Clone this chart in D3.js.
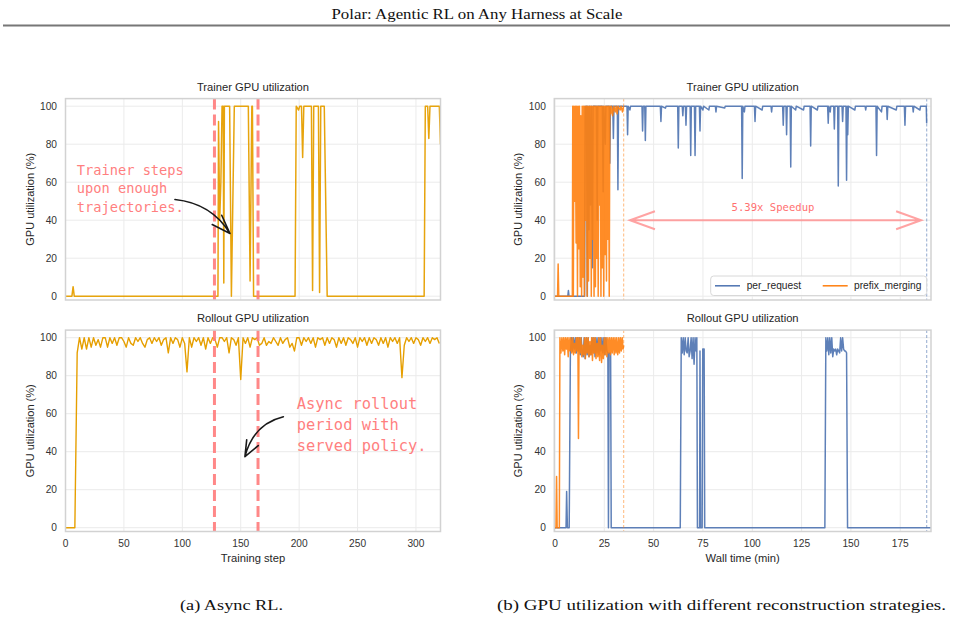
<!DOCTYPE html>
<html>
<head>
<meta charset="utf-8">
<script src="https://cdn.jsdelivr.net/npm/d3@7"></script>
<style>
	body { margin: 0; background: #ffffff; }
</style>
</head>
<body>
<svg id="fig" width="955" height="619" font-family="'Liberation Sans', Arial, sans-serif"></svg>
<script>

// ---- data ----

// (a) trainer utilization, breakpoints [step, %]
const trainerSteps = [0, 5.5, 6.5, 7.5, 130.5, 131, 132, 133, 134, 135, 135.5, 136, 140.5, 142, 144.5, 156.5, 158, 159.5, 160, 161,
	196.5, 197.5, 199.5, 200.5, 202, 203, 204, 210.5, 211.5, 212.5, 216.5, 217.5, 218.5, 221.5, 224, 307, 308, 310, 311, 312, 320, 321];
const trainerUtil = [0, 0, 5, 0, 0, 92, 40, 60, 100, 100, 7, 100, 100, 0, 100, 100, 8, 100, 100, 0,
	0, 100, 98, 100, 100, 73, 100, 100, 3, 100, 100, 2, 100, 100, 0, 0, 100, 100, 83, 100, 100, 80];

// (a) rollout utilization, one value every 2 steps
const ROLLOUT_STEP = 2;
const rolloutUtil = [
	0, 0, 0, 0, 0, 92, 100, 94, 100, 94,
	100, 95, 100, 96, 99, 95, 100, 100, 95, 100,
	97, 100, 96, 100, 100, 98, 95, 100, 97, 96,
	100, 98, 100, 97, 95, 99, 100, 97, 100, 98,
	100, 96, 99, 100, 92, 100, 97, 100, 99, 95,
	100, 97, 82, 100, 95, 100, 98, 100, 96, 100,
	94, 100, 97, 100, 99, 95, 100, 100, 98, 100,
	92, 100, 99, 96, 100, 78, 100, 97, 100, 95,
	100, 99, 100, 96, 97, 100, 96, 98, 97, 100,
	98, 96, 100, 97, 99, 100, 95, 97, 93, 100,
	100, 96, 100, 98, 100, 97, 100, 95, 100, 99,
	100, 96, 100, 97, 100, 99, 95, 100, 97, 100,
	96, 100, 99, 97, 100, 95, 100, 98, 100, 96,
	100, 97, 100, 99, 96, 100, 97, 100, 95, 100,
	98, 100, 97, 100, 79, 96, 100, 98, 100, 97,
	100, 99, 96, 100, 98, 100, 97, 100, 99, 100,
	97
];

// (b) [minute, %]
const perRequestTrainer = [
	[0,0],[6.5,0],[6.8,3],[7.1,0],[15,0],[15.3,100],[15.7,90],[16,100],[16.4,0],[16.7,100],[17.2,35],[17.5,100],
	[18,48],[18.4,100],[19,15],[19.3,100],[21,100],[21.4,40],[21.7,100],[24,100],[24.4,55],[24.7,100],[25.5,80],
	[25.8,100],[27.5,100],[27.8,70],[28.1,100],[29.3,100],[29.6,83],[29.9,100],[31.6,100],[31.9,56],[32.2,100],
	[36.5,100],[36.8,85],[37.1,100],[38,98],[38.3,100],[44.1,100],[44.4,87],[44.7,100],[45.5,100],[45.8,82],[46.1,100],
	[53.4,100],[53.7,92],[54,100],[56,99],[56.3,100],[62.2,100],[62.5,78],[62.8,100],[64.5,100],[64.8,95],[65.1,100],
	[66.1,100],[66.4,90],[66.7,100],[68.5,100],[68.8,74],[69.1,100],[70.7,100],[71,74],[71.3,100],[73.2,100],[73.5,87],
	[73.8,100],[75,98],[75.3,100],[78,98],[78.3,100],[81.3,100],[81.6,97],[81.9,100],[86,99],[86.3,100],[94.6,100],
	[94.9,62],[95.2,100],[96,97],[96.3,100],[101.1,100],[101.4,92],[101.7,100],[105,98],[105.3,100],[109.5,100],
	[109.8,97],[110.1,100],[115.4,100],[115.7,90],[116,100],[117.1,100],[117.4,85],[117.7,100],[119.2,100],[119.5,68],
	[119.8,100],[122,98],[122.3,100],[126,98],[126.3,100],[129.3,100],[129.6,79],[129.9,100],[133,98],[133.3,100],
	[138.2,100],[138.5,91],[138.8,100],[139.5,97],[139.8,100],[141.3,100],[141.6,88],[141.9,100],[143.3,100],[143.6,58],
	[143.9,100],[145.5,100],[145.8,92],[146.1,100],[147.5,100],[147.8,61],[148.1,100],[148.4,85],[148.7,100],[152,98],
	[152.3,100],[157.2,100],[157.5,98],[157.8,100],[162.7,100],[163,74],[163.3,100],[165.5,97],[165.8,100],[168.1,100],
	[168.4,93],[168.7,100],[173,98],[173.3,100],[177.1,100],[177.4,90],[177.7,100],[181.3,100],[181.6,97],[181.9,100],
	[185,98],[185.3,100],[188.2,100],[188.4,91]
];

const prefixMergingTrainer = [
	[0,0],[1.3,0],[1.6,17],[1.9,0],[8.8,0],[9,100],[9.3,0],[9.6,100],[10,50],[10.3,100],[10.7,28],[11,100],[11.4,0],
	[11.7,100],[12.1,25],[12.4,100],[12.8,5],[13.1,95],[13.5,0],[13.8,100],[14.2,10],[14.5,100],[14.9,0],[15.2,100],
	[15.6,40],[15.9,100],[16.3,0],[16.6,100],[17,8],[17.3,100],[17.7,20],[18,100],[18.4,0],[18.7,100],[19.1,30],
	[19.4,100],[19.8,0],[20.1,100],[20.5,5],[20.8,100],[21.2,20],[21.5,100],[21.9,0],[22.2,100],[22.6,48],[22.9,100],
	[23.3,0],[23.6,100],[24,15],[24.3,100],[24.7,0],[25,100],[25.4,22],[25.7,100],[26.1,8],[26.4,100],[26.8,30],
	[27.1,100],[27.5,0],[27.8,100],[28.2,96],[28.6,100],[29.2,95],[29.8,100],[30.5,97],[31,100],[31.5,96],[32,100],
	[33,98],[33.5,100],[34.2,97],[34.8,100]
];

const perRequestRollout = [
	[0,0],[5.6,0],[5.9,19],[6.3,0],[7.2,0],[7.8,92],[8.3,100],[8.8,93],[9.3,100],[9.8,94],[10.3,100],[10.8,92],[11.3,100],
	[11.8,93],[12.3,100],[12.8,91],[13.3,100],[13.8,92],[14.3,90],[14.8,100],[15.3,89],[15.8,100],[16.3,91],[16.8,100],
	[17.3,90],[17.8,96],[18.3,91],[18.8,100],[19.3,92],[19.8,100],[20.3,90],[20.8,100],[21.3,92],[21.8,100],[22.3,91],
	[22.8,100],[23.3,93],[23.8,100],[24.3,92],[24.8,100],[25.3,91],[25.8,100],[26.3,93],[26.8,92],[27.1,0],[27.4,92],
	[28.2,92],[28.5,0],[63.5,0],[64,100],[64.5,92],[65,100],[65.5,91],[66,100],[66.5,93],[67,92],[67.5,100],[68,90],
	[68.5,93],[69,100],[69.5,89],[70,100],[70.5,86],[71,100],[71.5,93],[71.9,100],[72.2,0],[73.3,0],[73.5,93],[73.8,0],
	[74.6,0],[74.9,94],[75.6,94],[75.9,0],[136.8,0],[137.3,100],[137.8,93],[138.3,100],[138.8,91],[139.3,100],[139.8,92],
	[140.3,100],[140.8,90],[141.3,94],[141.8,93],[142.3,94],[142.8,91],[143.3,94],[143.8,93],[144.3,92],[144.8,100],
	[145.3,93],[145.8,100],[146.3,94],[146.8,93],[147.3,93],[147.8,92],[148.3,0],[190.5,0]
];

const prefixMergingRollout = [
	[0,0],[0.5,0],[0.8,27],[1.1,0],[2.2,0],[2.5,100],[3,92],[3.5,100],[4,93],[4.4,100],[4.9,91],[5.3,100],[5.8,94],
	[6.2,100],[6.7,90],[7.1,100],[7.6,93],[8,100],[8.5,92],[9,100],[9.4,91],[9.9,97],[10.3,92],[10.8,100],[11.2,93],
	[11.6,100],[11.9,47],[12.2,100],[12.7,92],[13.1,100],[13.6,90],[14,96],[14.5,91],[15,100],[15.4,89],[15.9,100],
	[16.3,92],[16.8,100],[17.2,90],[17.7,98],[18.1,91],[18.6,100],[19,88],[19.5,100],[19.9,92],[20.4,100],[20.8,89],
	[21.3,97],[21.7,90],[22.2,100],[22.6,88],[23.1,100],[23.6,87],[24,96],[24.5,89],[25,100],[25.4,91],[25.9,100],
	[26.3,90],[26.8,100],[27.2,92],[27.7,100],[28.1,91],[28.6,100],[29,92],[29.5,100],[30,91],[30.4,100],[30.9,92],
	[31.3,100],[31.8,91],[32.3,100],[32.7,92],[33.2,100],[33.6,93],[34.1,100],[34.5,94],[34.8,96]
];

const yTicks = [0, 20, 40, 60, 80, 100];
const stepTicks = [0, 50, 100, 150, 200, 250, 300];
const minuteTicks = [0, 25, 50, 75, 100, 125, 150, 175];
const asyncWindow = [127.5, 164.8];
const prefixEnd = 34.8;
const perRequestEnd = 188.4;
const speedupLabel = '5.39x Speedup';
const seriesNames = ['per_request', 'prefix_merging'];
const seriesColors = ['#4c72b0', '#ff7f0e'];

const SERIF = "'Liberation Serif', 'DejaVu Serif', serif";
const MONO = "'DejaVu Sans Mono', 'Liberation Mono', monospace";

// ---- scales ----

let stepX = d3.scaleLinear().domain([0, 321]).range([65.5, 440.5]);
let minuteX = d3.scaleLinear().domain([-0.35, 190.6]).range([554.3, 931]);
let topY = d3.scaleLinear().domain([-2, 104]).range([300, 98.6]);
let bottomY = d3.scaleLinear().domain([-2, 104]).range([531.5, 330.1]);

let svg = d3.select('#fig');
let panelCount = 0;

function drawPanel(x, y, title, xTicks, showXLabels, xLabel, yLabelX)
{
	let [left, right] = x.range();
	let [bottom, top] = y.range();
	let id = 'clip' + (panelCount++);

	let g = svg.append('g');

	svg.append('clipPath')
		.attr('id', id)
		.append('rect')
		.attr('x', left)
		.attr('y', top)
		.attr('width', right - left)
		.attr('height', bottom - top)
	;

	let grid = g.append('g');

	grid.selectAll('.h')
		.data(yTicks)
		.enter()
		.append('line')
		.attr('x1', left)
		.attr('x2', right)
		.attr('y1', d => y(d))
		.attr('y2', d => y(d))
		.attr('stroke', '#ebebeb')
		.attr('stroke-width', 1)
	;

	grid.selectAll('.v')
		.data(xTicks)
		.enter()
		.append('line')
		.attr('x1', d => x(d))
		.attr('x2', d => x(d))
		.attr('y1', top)
		.attr('y2', bottom)
		.attr('stroke', '#ebebeb')
		.attr('stroke-width', 1)
	;

	let plot = g.append('g').attr('clip-path', 'url(#' + id + ')');

	g.append('rect')
		.attr('x', left)
		.attr('y', top)
		.attr('width', right - left)
		.attr('height', bottom - top)
		.attr('fill', 'none')
		.attr('stroke', '#d2d2d2')
		.attr('stroke-width', 1.5)
	;

	g.append('text')
		.attr('x', (left + right) / 2)
		.attr('y', top - 8)
		.attr('text-anchor', 'middle')
		.attr('font-size', 11.2)
		.attr('fill', '#262626')
		.text(title)
	;

	g.selectAll('.yl')
		.data(yTicks)
		.enter()
		.append('text')
		.attr('x', left - 8.5)
		.attr('y', d => y(d))
		.attr('dy', '0.35em')
		.attr('text-anchor', 'end')
		.attr('font-size', 10.2)
		.attr('fill', '#333')
		.text(d => d)
	;

	g.append('text')
		.attr('transform', `translate(${yLabelX}, ${(top + bottom) / 2}) rotate(-90)`)
		.attr('text-anchor', 'middle')
		.attr('font-size', 11)
		.attr('fill', '#262626')
		.text('GPU utilization (%)')
	;

	if(showXLabels)
	{
		g.selectAll('.xl')
			.data(xTicks)
			.enter()
			.append('text')
			.attr('x', d => x(d))
			.attr('y', bottom + 15.5)
			.attr('text-anchor', 'middle')
			.attr('font-size', 10.2)
			.attr('fill', '#333')
			.text(d => d)
		;

		g.append('text')
			.attr('x', (left + right) / 2)
			.attr('y', bottom + 30.5)
			.attr('text-anchor', 'middle')
			.attr('font-size', 11.2)
			.attr('fill', '#262626')
			.text(xLabel)
		;
	}

	return plot;
}

// ---- header and captions ----

svg.append('text')
	.attr('x', 477)
	.attr('y', 18.5)
	.attr('text-anchor', 'middle')
	.attr('font-family', SERIF)
	.attr('font-size', 15.5)
	.attr('textLength', 291)
	.attr('lengthAdjust', 'spacingAndGlyphs')
	.attr('fill', '#111')
	.text('Polar: Agentic RL on Any Harness at Scale')
;

svg.append('line')
	.attr('x1', 3)
	.attr('x2', 950)
	.attr('y1', 25.5)
	.attr('y2', 25.5)
	.attr('stroke', '#777')
	.attr('stroke-width', 1.8)
;

svg.append('text')
	.attr('x', 180)
	.attr('y', 610)
	.attr('font-family', SERIF)
	.attr('font-size', 15.5)
	.attr('textLength', 103)
	.attr('lengthAdjust', 'spacingAndGlyphs')
	.attr('fill', '#111')
	.text('(a) Async RL.')
;

svg.append('text')
	.attr('x', 497)
	.attr('y', 610)
	.attr('font-family', SERIF)
	.attr('font-size', 15.5)
	.attr('textLength', 449)
	.attr('lengthAdjust', 'spacingAndGlyphs')
	.attr('fill', '#111')
	.text('(b) GPU utilization with different reconstruction strategies.')
;

// ---- (a) async RL ----

let trainerPlot = drawPanel(stepX, topY, 'Trainer GPU utilization', stepTicks, false, '', 34);
let rolloutPlot = drawPanel(stepX, bottomY, 'Rollout GPU utilization', stepTicks, true, 'Training step', 34);

let trainerLine = d3.line()
	.x((d, i) => stepX(trainerSteps[i]))
	.y(d => topY(d));

trainerPlot.append('path')
	.attr('d', trainerLine(trainerUtil))
	.attr('fill', 'none')
	.attr('stroke', '#e69f00')
	.attr('stroke-width', 1.5)
	.attr('stroke-opacity', 0.95)
	.attr('stroke-linejoin', 'round')
;

let rolloutLine = d3.line()
	.x((d, i) => stepX(i * ROLLOUT_STEP))
	.y(d => bottomY(d));

rolloutPlot.append('path')
	.attr('d', rolloutLine(rolloutUtil))
	.attr('fill', 'none')
	.attr('stroke', '#e69f00')
	.attr('stroke-width', 1.4)
	.attr('stroke-linejoin', 'round')
;

[[trainerPlot, topY], [rolloutPlot, bottomY]].forEach(([p, y]) => {
	p.selectAll('.win')
		.data(asyncWindow)
		.enter()
		.append('line')
		.attr('x1', d => stepX(d))
		.attr('x2', d => stepX(d))
		.attr('y1', y.range()[1])
		.attr('y2', y.range()[0])
		.attr('stroke', '#ff7b7b')
		.attr('stroke-opacity', 0.9)
		.attr('stroke-width', 3)
		.attr('stroke-dasharray', '11,5')
	;
});

// handwritten style notes
function note(y, step, value, lines, size, lineGap)
{
	let t = svg.append('text')
		.attr('x', stepX(step))
		.attr('y', y(value))
		.attr('font-family', MONO)
		.attr('font-size', size)
		.attr('fill', '#ff7f7f')
	;
	t.selectAll('tspan')
		.data(lines)
		.enter()
		.append('tspan')
		.attr('x', stepX(step))
		.attr('dy', (d, i) => i == 0 ? 0 : lineGap)
		.text(d => d)
	;
}

note(topY, 9.6, 63.8, ['Trainer steps', 'upon enough', 'trajectories.'], 13.7, 18.3);
note(bottomY, 198, 62.5, ['Async rollout', 'period with', 'served policy.'], 15.4, 21.2);

function curvedArrow(y, from, ctrl, tip, barbs)
{
	let p = d3.path();
	p.moveTo(stepX(from[0]), y(from[1]));
	p.quadraticCurveTo(stepX(ctrl[0]), y(ctrl[1]), stepX(tip[0]), y(tip[1]));
	barbs.forEach(b => {
		p.moveTo(stepX(b[0]), y(b[1]));
		p.lineTo(stepX(tip[0]), y(tip[1]));
	});
	svg.append('path')
		.attr('d', p.toString())
		.attr('fill', 'none')
		.attr('stroke', '#1a1a1a')
		.attr('stroke-width', 1.6)
		.attr('stroke-linecap', 'round')
	;
}

curvedArrow(topY, [93.7, 50.9], [125, 48.9], [140.8, 33], [[133.7, 42.6], [125.6, 37.7]]);
curvedArrow(bottomY, [186.5, 58.4], [160.8, 54.6], [153.6, 37.4], [[155.1, 46.2], [165, 43.2]]);

// ---- (b) reconstruction strategies ----

let bTrainer = drawPanel(minuteX, topY, 'Trainer GPU utilization', minuteTicks, false, '', 522);
let bRollout = drawPanel(minuteX, bottomY, 'Rollout GPU utilization', minuteTicks, true, 'Wall time (min)', 522);

[[bTrainer, topY, perRequestTrainer, prefixMergingTrainer], [bRollout, bottomY, perRequestRollout, prefixMergingRollout]].forEach(([p, y, perReq, prefix]) => {
	let line = d3.line()
		.x(d => minuteX(d[0]))
		.y(d => y(d[1]));

	[perReq, prefix].forEach((s, k) => {
		p.append('path')
			.attr('d', line(s))
			.attr('fill', 'none')
			.attr('stroke', seriesColors[k])
			.attr('stroke-width', 1.5)
			.attr('stroke-opacity', 0.9)
			.attr('stroke-linejoin', 'round')
		;
	});

	p.append('line')
		.attr('x1', minuteX(prefixEnd))
		.attr('x2', minuteX(prefixEnd))
		.attr('y1', y.range()[1])
		.attr('y2', y.range()[0])
		.attr('stroke', '#ff7f0e')
		.attr('stroke-opacity', 0.45)
		.attr('stroke-width', 1.2)
		.attr('stroke-dasharray', '3,2')
	;

	p.append('line')
		.attr('x1', minuteX(perRequestEnd))
		.attr('x2', minuteX(perRequestEnd))
		.attr('y1', y.range()[1])
		.attr('y2', y.range()[0])
		.attr('stroke', '#4c72b0')
		.attr('stroke-opacity', 0.5)
		.attr('stroke-width', 1.2)
		.attr('stroke-dasharray', '3,2')
	;
});

// speedup double arrow
let ay = topY(40);
let ax0 = minuteX(38);
let ax1 = minuteX(185.6);

svg.append('path')
	.attr('d', `M${ax0},${ay}L${ax1},${ay}M${ax0 + 25},${ay - 9}L${ax0},${ay}L${ax0 + 25},${ay + 9}M${ax1 - 25},${ay - 9}L${ax1},${ay}L${ax1 - 25},${ay + 9}`)
	.attr('fill', 'none')
	.attr('stroke', '#ff8c8c')
	.attr('stroke-opacity', 0.8)
	.attr('stroke-width', 2)
;

svg.append('text')
	.attr('x', minuteX(110.5))
	.attr('y', topY(45))
	.attr('text-anchor', 'middle')
	.attr('font-family', MONO)
	.attr('font-size', 10.6)
	.attr('fill', '#ff6f6f')
	.text(speedupLabel)
;

// legend (lower right)
let legend = svg.append('g');

legend.append('rect')
	.attr('x', 710.7)
	.attr('y', 276)
	.attr('width', 216)
	.attr('height', 19.5)
	.attr('rx', 3)
	.attr('fill', '#ffffff')
	.attr('fill-opacity', 0.85)
	.attr('stroke', '#d8d8d8')
	.attr('stroke-width', 1)
;

let legendX = [715, 822.7];
let legendTextX = [746.7, 854];

seriesNames.forEach((name, k) => {
	legend.append('line')
		.attr('x1', legendX[k])
		.attr('x2', legendX[k] + 25)
		.attr('y1', 285.8)
		.attr('y2', 285.8)
		.attr('stroke', seriesColors[k])
		.attr('stroke-width', 1.5)
	;
	legend.append('text')
		.attr('x', legendTextX[k])
		.attr('y', 285.8)
		.attr('dy', '0.35em')
		.attr('font-size', 10.2)
		.attr('fill', '#262626')
		.text(name)
	;
});

</script>
</body>
</html>
